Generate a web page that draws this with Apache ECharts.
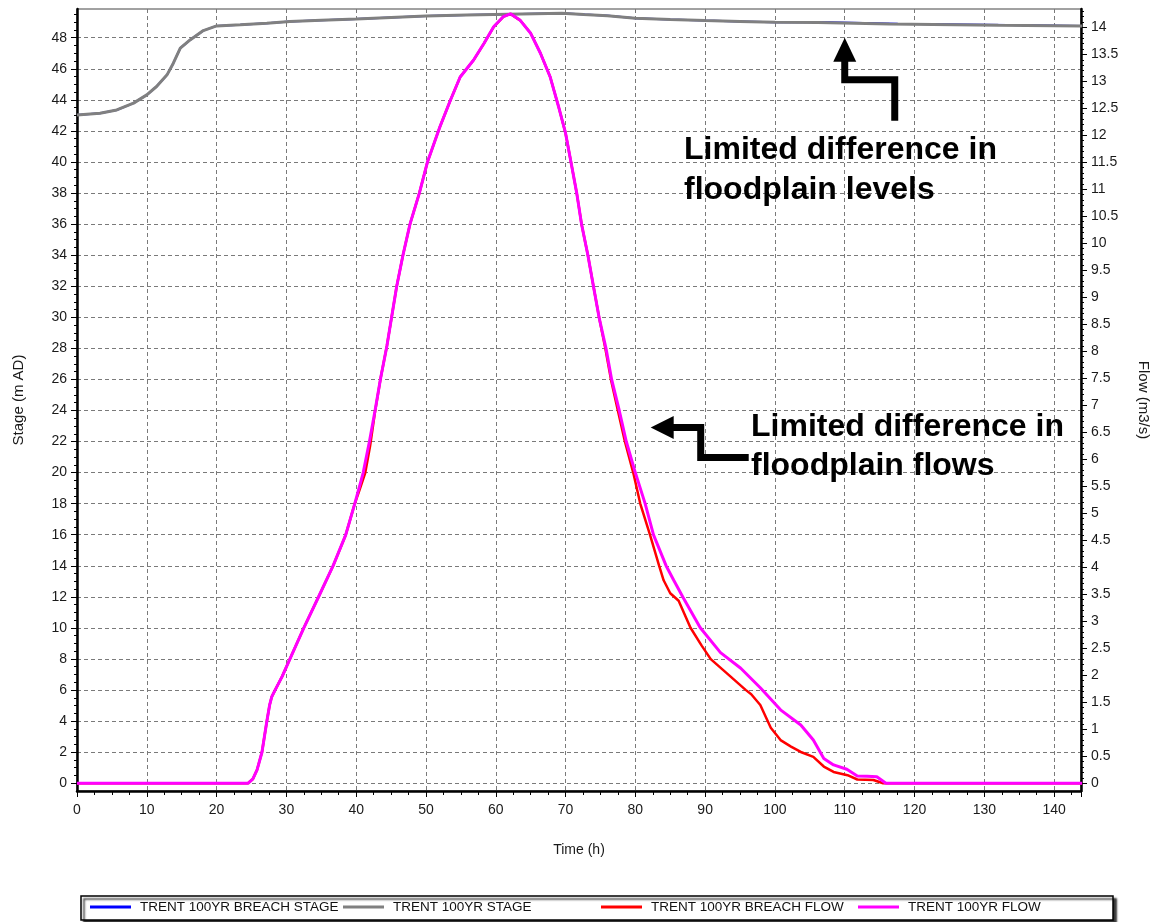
<!DOCTYPE html>
<html>
<head>
<meta charset="utf-8">
<title>Trent 100yr breach – stage and flow</title>
<script src="https://cdn.jsdelivr.net/npm/echarts@6/dist/echarts.min.js"></script>
<style>
  html, body { margin: 0; padding: 0; background: #ffffff; }
  #chart { width: 1151px; height: 922px; }
</style>
</head>
<body>
<div id="chart"></div>
<script>
// ---- Stage (m AD), left axis ----
const stageTimes = [0, 3.3, 5.7, 8.1, 10.0, 11.4, 12.9, 13.8, 14.8, 16.2, 18.1, 20.0, 23.4, 27.2, 30.5,
  35.0, 40.0, 45.0, 50.0, 55.8, 55.9, 69.5, 69.6, 72.6, 72.7, 76.0, 76.1, 80.0, 85.0, 90.0,
  95.0, 100.0, 106.2, 106.3, 116.4, 116.5, 132.0, 132.1, 144];
const stageBase = [43.03, 43.14, 43.35, 43.79, 44.32, 44.86, 45.61, 46.36, 47.33, 47.86, 48.46, 48.76, 48.83, 48.94, 49.04,
  49.12, 49.2, 49.3, 49.4, 49.47, 49.58, 49.58, 49.49, 49.49, 49.41, 49.41, 49.32, 49.26, 49.18, 49.11,
  49.05, 48.99, 48.98, 48.89, 48.89, 48.8, 48.8, 48.75, 48.75];

const breachStageTimes = [0, 3.3, 5.7, 8.1, 10.0, 11.4, 12.9, 13.8, 14.8, 16.2, 18.1, 20.0, 23.4, 27.2, 30.5,
  35.0, 40.0, 45.0, 50.0, 55.8, 55.9, 69.5, 69.6, 72.8, 72.9, 76.2, 76.3, 80.0, 85.0, 90.0,
  95.0, 100.0, 107.7, 107.8, 117.6, 117.7, 136.5, 136.6, 144];
const breachStage = [43.03, 43.14, 43.35, 43.79, 44.32, 44.86, 45.61, 46.36, 47.33, 47.86, 48.46, 48.76, 48.83, 48.94, 49.04,
  49.12, 49.2, 49.3, 49.4, 49.47, 49.58, 49.58, 49.49, 49.49, 49.41, 49.41, 49.32, 49.26, 49.18, 49.11,
  49.05, 48.99, 49.0, 48.9, 48.9, 48.81, 48.81, 48.75, 48.75];

// ---- Flow (m3/s), right axis ----
const flowTimes = [0, 24.5, 25.2, 25.8, 26.5, 27.2, 27.6, 27.9, 28.4, 29.4, 30.5, 32.5, 34.6, 36.7, 38.5,
  39.8, 41.0, 41.9, 42.7, 43.5, 44.4, 45.8, 46.7, 47.7, 49.05, 50.2, 52.0, 53.5, 54.9, 56.8,
  58.3, 59.7, 61.1, 62.1, 63.5, 65.0, 66.4, 67.8, 69.0, 70.0, 70.9, 71.6, 72.3, 73.2, 74.0,
  74.8, 75.8, 76.6, 77.7, 78.7, 80.0, 81.4, 82.6, 84.4, 85.5, 86.8, 89.3, 92.2, 95.1, 97.9,
  100.8, 103.7, 105.5, 107.0, 108.4, 110.3, 111.8, 113.2, 114.6, 115.9, 144];
const flowBase = [0, 0, 0.08, 0.25, 0.575, 1.15, 1.45, 1.6, 1.73, 1.98, 2.3, 2.88, 3.45, 4.03, 4.6,
  5.18, 5.75, 6.33, 6.9, 7.5, 8.1, 9.2, 9.78, 10.35, 10.93, 11.5, 12.16, 12.65, 13.08, 13.39,
  13.7, 14.01, 14.2, 14.25, 14.13, 13.89, 13.52, 13.08, 12.53, 12.04, 11.42, 10.93, 10.35, 9.78, 9.2,
  8.63, 8.05, 7.48, 6.9, 6.33, 5.75, 5.18, 4.6, 4.03, 3.76, 3.45, 2.88, 2.42, 2.13, 1.77,
  1.36, 1.08, 0.8, 0.46, 0.34, 0.26, 0.135, 0.13, 0.12, 0, 0];

const breachFlowTimes = [0, 24.5, 25.2, 25.8, 26.5, 27.2, 27.6, 27.9, 28.4, 29.4, 30.5, 32.5, 34.6, 36.7, 38.5,
  39.8, 40.4, 41.3, 42.0, 42.7, 43.5, 44.4, 45.8, 46.7, 47.7, 49.05, 50.2, 52.0, 53.5, 54.9,
  56.8, 58.3, 59.7, 61.1, 62.1, 63.5, 65.0, 66.4, 67.8, 69.0, 70.0, 70.9, 71.6, 72.3, 73.2,
  74.0, 74.8, 75.7, 76.5, 77.5, 78.5, 79.7, 80.7, 82.1, 83.4, 84.05, 85.0, 86.2, 87.9, 89.5,
  90.8, 93.0, 95.8, 96.6, 97.9, 99.4, 100.8, 102.3, 103.7, 105.5, 107.0, 108.4, 110.4, 111.8, 114.1,
  115.5, 144];
const breachFlow = [0, 0, 0.08, 0.25, 0.575, 1.15, 1.45, 1.6, 1.73, 1.98, 2.3, 2.88, 3.45, 4.03, 4.6,
  5.18, 5.4, 5.75, 6.25, 6.88, 7.5, 8.1, 9.2, 9.78, 10.35, 10.93, 11.5, 12.16, 12.65, 13.08,
  13.39, 13.7, 14.01, 14.2, 14.25, 14.13, 13.89, 13.52, 13.08, 12.53, 12.04, 11.42, 10.93, 10.35, 9.78,
  9.2, 8.63, 8.05, 7.48, 6.9, 6.33, 5.75, 5.18, 4.6, 4.03, 3.76, 3.52, 3.38, 2.88, 2.55,
  2.3, 2.05, 1.73, 1.65, 1.45, 1.03, 0.8, 0.68, 0.58, 0.49, 0.31, 0.21, 0.15, 0.07, 0.06,
  0, 0];

// ---- Axis ticks ----
const stageTicks = [0, 2, 4, 6, 8, 10, 12, 14, 16, 18, 20, 22, 24, 26, 28, 30, 32, 34, 36, 38, 40, 42, 44, 46, 48];
const flowTicks = [0, 0.5, 1, 1.5, 2, 2.5, 3, 3.5, 4, 4.5, 5, 5.5, 6, 6.5, 7, 7.5, 8, 8.5, 9, 9.5, 10,
  10.5, 11, 11.5, 12, 12.5, 13, 13.5, 14];

const seriesNames = ['TRENT 100YR BREACH STAGE', 'TRENT 100YR STAGE', 'TRENT 100YR BREACH FLOW', 'TRENT 100YR FLOW'];
const seriesColors = ['#0000ff', '#808080', '#ff0000', '#ff00ff'];

// Minor tick positions sit between the labelled ticks
function minorBetween(ticks, parts, lo) {
  const out = [];
  const step = (ticks[1] - ticks[0]) / parts;
  for (let v = lo; v <= ticks[ticks.length - 1] + step * (parts - 1) + 1e-9; v += step) {
    const r = Math.round(v * 1000) / 1000;
    if (ticks.indexOf(r) === -1) out.push(r);
  }
  return out;
}
const stageMinor = minorBetween(stageTicks, 4, 0);
const flowMinor = minorBetween(flowTicks, 5, 0);

const zip = (xs, ys) => xs.map((x, i) => [x, ys[i]]);

const FONT = 'Arial, "Liberation Sans", sans-serif';
const tickText = { color: '#1a1a1a', fontFamily: FONT, fontSize: 14 };
const nameText = { color: '#1a1a1a', fontFamily: FONT, fontSize: 14 };
const sideNameText = { color: '#1a1a1a', fontFamily: FONT, fontSize: 15 };
const dashGrid = { color: '#7a7a7a', type: [4, 3], width: 1 };
const blackAxis = { color: '#000', width: 2.5 };

const STAGE_MIN = -0.5, STAGE_MAX = 49.85;
const FLOW_MIN = -0.143, FLOW_MAX = 14.34;

const chart = echarts.init(document.getElementById('chart'), null, { renderer: 'canvas' });

const legendLeft = [90, 343, 601, 858];

const option = {
  animation: false,
  backgroundColor: '#ffffff',
  grid: { left: 77, right: 70, top: 9, bottom: 131, outerBoundsMode: 'none', containLabel: false,
    show: true, borderColor: '#444', borderWidth: 1, backgroundColor: 'transparent' },
  xAxis: {
    type: 'value', min: 0, max: 143.85, interval: 10,
    name: 'Time (h)', nameLocation: 'middle', nameGap: 52, nameTextStyle: nameText,
    axisLine: { show: true, onZero: false, lineStyle: blackAxis },
    axisTick: { show: true, length: 6, lineStyle: { color: '#000' } },
    minorTick: { show: true, splitNumber: 4, length: 4, lineStyle: { color: '#000' } },
    axisLabel: Object.assign({ margin: 12, showMaxLabel: false }, tickText),
    splitLine: { show: true, lineStyle: dashGrid }
  },
  yAxis: [
    {
      type: 'value', position: 'left', min: STAGE_MIN, max: STAGE_MAX,
      name: 'Stage (m AD)', nameLocation: 'middle', nameRotate: 90, nameGap: 51, nameTextStyle: sideNameText,
      axisLine: { show: true, onZero: false, lineStyle: blackAxis },
      axisTick: { show: true, customValues: stageTicks, length: 6, lineStyle: { color: '#000' } },
      axisLabel: Object.assign({ customValues: stageTicks, margin: 10 }, tickText),
      splitLine: { show: true, lineStyle: dashGrid }
    },
    {
      type: 'value', position: 'right', min: FLOW_MIN, max: FLOW_MAX,
      name: 'Flow (m3/s)', nameLocation: 'middle', nameRotate: -90, nameGap: 55, nameTextStyle: sideNameText,
      axisLine: { show: true, onZero: false, lineStyle: blackAxis },
      axisTick: { show: true, customValues: flowTicks, length: 6, lineStyle: { color: '#000' } },
      axisLabel: Object.assign({ customValues: flowTicks, margin: 10 }, tickText),
      splitLine: { show: false }
    },
    {
      type: 'value', position: 'left', min: STAGE_MIN, max: STAGE_MAX,
      axisLine: { show: false },
      axisTick: { show: true, customValues: stageMinor, length: 3, lineStyle: { color: '#000' } },
      axisLabel: { show: false }, splitLine: { show: false }
    },
    {
      type: 'value', position: 'right', min: FLOW_MIN, max: FLOW_MAX,
      axisLine: { show: false },
      axisTick: { show: true, customValues: flowMinor, length: 3, lineStyle: { color: '#000' } },
      axisLabel: { show: false }, splitLine: { show: false }
    }
  ],
  legend: seriesNames.map((name, i) => ({
    data: [name], left: legendLeft[i], top: 900, padding: 0, itemGap: 0,
    icon: 'rect', itemWidth: 41, itemHeight: 3, selectedMode: false, z: 10,
    textStyle: { fontFamily: FONT, fontSize: 13.5, color: '#111', padding: [0, 0, 0, 4] }
  })),
  series: [
    { name: seriesNames[0], type: 'line', yAxisIndex: 0, data: zip(breachStageTimes, breachStage),
      showSymbol: false, symbol: 'none', lineStyle: { color: seriesColors[0], width: 2 }, itemStyle: { color: seriesColors[0] } },
    { name: seriesNames[1], type: 'line', yAxisIndex: 0, data: zip(stageTimes, stageBase),
      showSymbol: false, symbol: 'none', lineStyle: { color: seriesColors[1], width: 3 }, itemStyle: { color: seriesColors[1] } },
    { name: seriesNames[2], type: 'line', yAxisIndex: 1, data: zip(breachFlowTimes, breachFlow),
      showSymbol: false, symbol: 'none', lineStyle: { color: seriesColors[2], width: 2.5 }, itemStyle: { color: seriesColors[2] } },
    { name: seriesNames[3], type: 'line', yAxisIndex: 1, data: zip(flowTimes, flowBase),
      showSymbol: false, symbol: 'none', lineStyle: { color: seriesColors[3], width: 3 }, itemStyle: { color: seriesColors[3] } }
  ]
};

chart.setOption(option);

// ---- Annotations: call-out text and elbow arrows, anchored in (time, stage) ----
const levelArrowTip = [110, 48];
const flowArrowTip = [82.2, 22.9];
const toPx = p => chart.convertToPixel({ xAxisIndex: 0, yAxisIndex: 0 }, p);

const up = toPx(levelArrowTip);
const lt = toPx(flowArrowTip);
const arrowStroke = { stroke: '#000', lineWidth: 7, fill: null, lineJoin: 'miter', lineCap: 'butt' };
const calloutFont = 'bold 32px Arial, "Liberation Sans", sans-serif';

chart.setOption({
  graphic: [
    // legend frame with drop shadow
    { type: 'rect', z: 0, shape: { x: 81, y: 896, width: 1032, height: 24 },
      style: { fill: '#fff', stroke: '#000', lineWidth: 1.5, shadowColor: 'rgba(0,0,0,0.8)', shadowOffsetX: 3, shadowOffsetY: 3, shadowBlur: 2 } },
    // upward arrow towards the stage lines
    { type: 'polygon', z: 20, shape: { points: [[up[0], up[1]], [up[0] - 11.5, up[1] + 24], [up[0] + 11.5, up[1] + 24]] }, style: { fill: '#000' } },
    { type: 'polyline', z: 20, shape: { points: [[up[0], up[1] + 22], [up[0], up[1] + 42], [up[0] + 50, up[1] + 42], [up[0] + 50, up[1] + 83]] }, style: arrowStroke },
    // leftward arrow towards the flow hydrographs
    { type: 'polygon', z: 20, shape: { points: [[lt[0], lt[1]], [lt[0] + 23, lt[1] - 11.5], [lt[0] + 23, lt[1] + 11.5]] }, style: { fill: '#000' } },
    { type: 'polyline', z: 20, shape: { points: [[lt[0] + 21, lt[1]], [lt[0] + 50, lt[1]], [lt[0] + 50, lt[1] + 30], [lt[0] + 98, lt[1] + 30]] }, style: arrowStroke },
    { type: 'text', z: 20, x: 684, y: 130, style: { text: 'Limited difference in\nfloodplain levels', font: calloutFont, fill: '#000', lineHeight: 40, verticalAlign: 'top' } },
    { type: 'text', z: 20, x: 751, y: 408, style: { text: 'Limited difference in\nfloodplain flows', font: calloutFont, fill: '#000', lineHeight: 39, verticalAlign: 'top' } }
  ]
});
</script>
</body>
</html>
